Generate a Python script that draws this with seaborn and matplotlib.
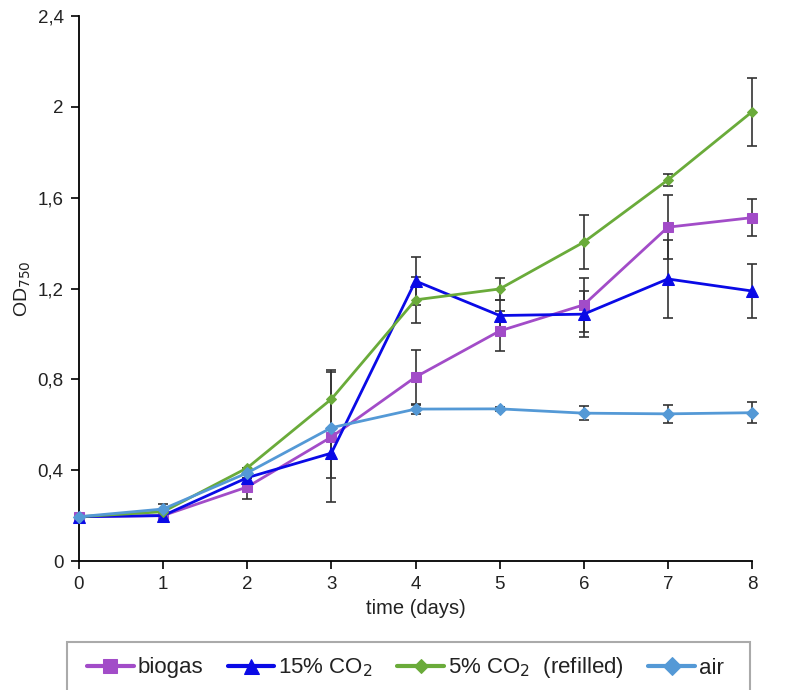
import numpy as np
import pandas as pd
import seaborn as sns
from matplotlib import pyplot as plt
from matplotlib.patches import Rectangle

sns.set_style("white")
plt.rcParams["font.family"] = ["Liberation Sans", "DejaVu Sans"]

# data
days = [0, 1, 2, 3, 4, 5, 6, 7, 8]
biogas = [0.195, 0.20, 0.326, 0.546, 0.81, 1.013, 1.128, 1.470, 1.512]
biogas_err = [0.0, 0.0, 0.053, 0.285, 0.12, 0.09, 0.12, 0.14, 0.082]
co2_15 = [0.195, 0.20, 0.367, 0.475, 1.233, 1.081, 1.087, 1.242, 1.189]
co2_15_err = [0.0, 0.0, 0.0, 0.11, 0.107, 0.07, 0.10, 0.17, 0.12]
co2_5 = [0.195, 0.217, 0.41, 0.713, 1.15, 1.198, 1.404, 1.678, 1.978]
co2_5_err = [0.0, 0.0, 0.0, 0.13, 0.10, 0.05, 0.12, 0.027, 0.15]
air = [0.195, 0.229, 0.388, 0.587, 0.669, 0.67, 0.651, 0.648, 0.653]
air_err = [0.0, 0.02, 0.0, 0.0, 0.02, 0.01, 0.03, 0.04, 0.045]

series = [
    ("biogas", biogas, biogas_err, "#A24CC8", "s", 7.5),
    ("15% CO$_2$", co2_15, co2_15_err, "#0A0AE6", "^", 8),
    ("5% CO$_2$  (refilled)", co2_5, co2_5_err, "#6AAB3A", "D", 5),
    ("air", air, air_err, "#5499D6", "D", 6.5),
]

fig = plt.figure(figsize=(7.85, 6.9), dpi=100)
ax = fig.add_axes([79 / 785, 129 / 690, 673 / 785, 545 / 690])

for name, vals, errs, col, mk, ms in series:
    eb = ax.errorbar(days, vals, yerr=errs, fmt="none", ecolor="#333333",
                     elinewidth=1.2, capsize=3.5, capthick=1.2, zorder=2)
    for art in eb.get_children():
        art.set_clip_on(False)

for i, (name, vals, errs, col, mk, ms) in enumerate(series):
    sns.lineplot(x=days, y=vals, ax=ax, color=col, marker=mk, markersize=ms,
                 markeredgecolor=col, linewidth=2, label=name, zorder=3 + i,
                 clip_on=False)

ax.set_xlim(0, 8)
ax.set_ylim(0, 2.4)
ax.set_xticks(range(9))
ax.set_yticks([0, 0.4, 0.8, 1.2, 1.6, 2.0, 2.4])
ax.set_yticklabels(["0", "0,4", "0,8", "1,2", "1,6", "2", "2,4"])
ax.tick_params(axis="both", direction="out", length=6, width=1.2, pad=5,
               labelsize=13.5, color="black", labelcolor="#222222",
               left=True, bottom=True)
ax.spines["top"].set_visible(False)
ax.spines["right"].set_visible(False)
ax.spines["left"].set_linewidth(1.3)
ax.spines["bottom"].set_linewidth(1.3)
ax.spines["left"].set_color("black")
ax.spines["bottom"].set_color("black")
ax.set_xlabel("time (days)", fontsize=14.5, labelpad=4, color="#222222")
ax.set_ylabel("OD$_{750}$", fontsize=14, labelpad=3, color="#222222")

handles, labels = ax.get_legend_handles_labels()
ax.get_legend().remove()

# legend box is cut by the bottom edge of the figure
fig.patches.append(Rectangle((67 / 785, -0.05), 683 / 785, 0.05 + 48 / 690,
                             transform=fig.transFigure, fill=False,
                             edgecolor="#aaaaaa", linewidth=1.5))
leg = fig.legend(handles, labels, loc="center left", ncol=4,
                 bbox_to_anchor=(87 / 785, 1 - 668 / 690),
                 fontsize=16, frameon=False, handlelength=2.1,
                 handletextpad=0.18, borderpad=0, borderaxespad=0,
                 columnspacing=1.1)
for t in leg.get_texts():
    t.set_color("#222222")
for h in leg.legend_handles:
    h.set_markersize(h.get_markersize() * 1.35)
    h.set_linewidth(3)

fig.savefig("out.png", dpi=100)
